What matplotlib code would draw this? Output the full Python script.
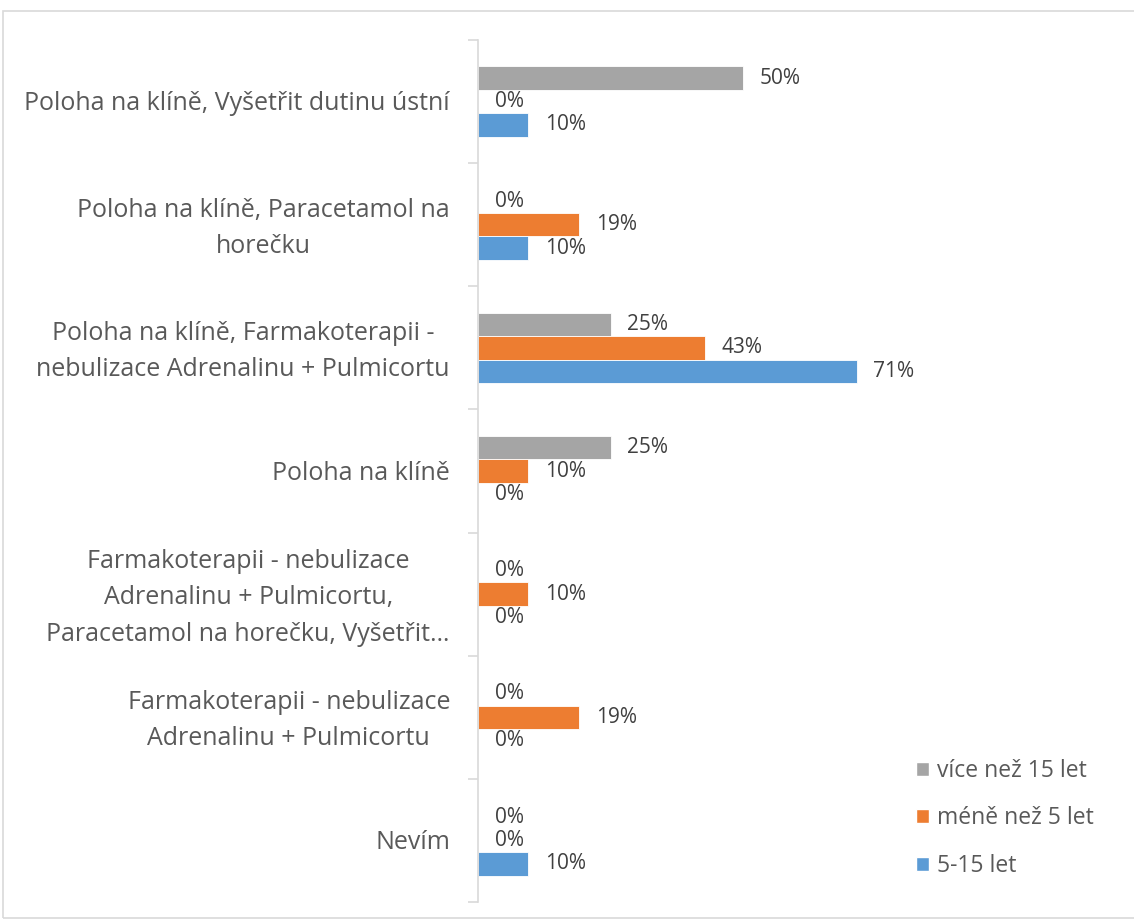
import matplotlib.pyplot as plt
import numpy as np
from matplotlib.patches import Rectangle, Patch
from matplotlib.transforms import ScaledTranslation

plt.rcParams["font.family"] = ["Open Sans", "DejaVu Sans"]

CATEGORIES = [
    "Poloha na klíně, Vyšetřit dutinu ústní",
    "Poloha na klíně, Paracetamol na\nhorečku",
    "Poloha na klíně, Farmakoterapii -\nnebulizace Adrenalinu + Pulmicortu",
    "Poloha na klíně",
    "Farmakoterapii - nebulizace\nAdrenalinu + Pulmicortu,\nParacetamol na horečku, Vyšetřit…",
    "Farmakoterapii - nebulizace\nAdrenalinu + Pulmicortu",
    "Nevím",
]
SERIES = ["více než 15 let", "méně než 5 let", "5-15 let"]
OVER_15 = [50.0, 0.0, 25.0, 25.0, 0.0, 0.0, 0.0]
UNDER_5 = [0.0, 19.05, 42.86, 9.52, 9.52, 19.05, 0.0]
FROM_5_TO_15 = [9.52, 9.52, 71.43, 0.0, 0.0, 0.0, 9.52]

COLORS = ["#A5A5A5", "#ED7D31", "#5B9BD5"]
TEXT = "#595959"
LINE = "#D9D9D9"

W, H = 1134, 923


def main():
    fig = plt.figure(figsize=(W / 100, H / 100), dpi=100)
    fig.patches.append(Rectangle((3 / W, 1 - 918 / H), 1.2, (918 - 11) / H,
                                 transform=fig.transFigure, fill=False,
                                 edgecolor=LINE, lw=1.2))

    ax = fig.add_axes([478 / W, 1 - 902 / H, 424 / W, 862 / H])

    y = np.arange(len(CATEGORIES))
    h = 0.19
    series_vals = [OVER_15, UNDER_5, FROM_5_TO_15]
    for k, (vals, col) in enumerate(zip(series_vals, COLORS)):
        pos = y + (k - 1) * h
        ax.barh(pos, vals, height=h, color=col, edgecolor="white", lw=0.6)
        for p, v in zip(pos, vals):
            ax.annotate(f"{v:.0f}%", (v, p), xytext=(12, 0),
                        textcoords="offset points", va="center", ha="left",
                        fontsize=15, color="#404040")

    ax.set_xlim(0, 80)
    ax.set_ylim(len(CATEGORIES) - 0.5, -0.5)

    # category labels drawn as text so wrapped ones line up like the original
    ax.set_yticks(y)
    ax.set_yticklabels([])
    base = ax.get_yaxis_transform()
    for yi, cat in zip(y, CATEGORIES):
        dy = -0.035 if "\n" in cat else -0.02
        tr = base + ScaledTranslation(-0.28, dy, fig.dpi_scale_trans)
        ax.text(0, yi, cat, transform=tr, ha="right", va="center",
                multialignment="center", linespacing=1.6,
                fontsize=18, color=TEXT)
    ax.set_yticks(np.arange(len(CATEGORIES) + 1) - 0.5, minor=True)
    ax.tick_params(axis="y", which="major", length=0)
    ax.tick_params(axis="y", which="minor", length=7, color=LINE, width=1.2)
    ax.set_xticks([])

    for s in ["top", "right", "bottom"]:
        ax.spines[s].set_visible(False)
    ax.spines["left"].set_color(LINE)
    ax.spines["left"].set_linewidth(1.2)

    handles = [Patch(facecolor=c, edgecolor="white") for c in COLORS]
    fig.legend(handles, SERIES, loc="upper left",
               bbox_to_anchor=(916 / W, 1 - 759 / H), frameon=False,
               fontsize=16.5, labelcolor=TEXT, handlelength=0.57,
               handleheight=0.57, handletextpad=0.35, labelspacing=1.02,
               borderpad=0, borderaxespad=0)

    fig.savefig("out.png", dpi=100)
    plt.close(fig)


if __name__ == "__main__":
    main()
